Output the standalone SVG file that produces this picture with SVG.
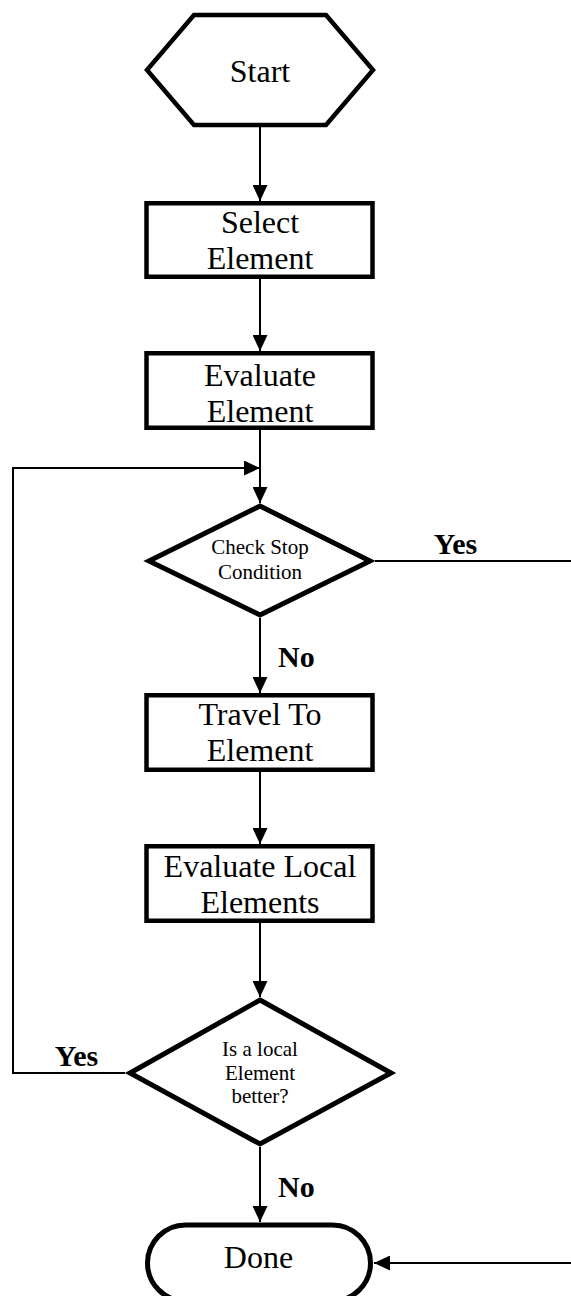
<svg xmlns="http://www.w3.org/2000/svg" width="571" height="1296" viewBox="0 0 571 1296">
  <style>
    .shape { fill: #fff; stroke: #000; stroke-width: 4.5; stroke-linejoin: miter; }
    .dec { fill: #fff; stroke: #000; stroke-width: 5; stroke-linejoin: miter; }
    .lbl { font-family: "Liberation Serif", "Times New Roman", serif; font-size: 32px; fill: #000; text-anchor: middle; }
    .small { font-family: "Liberation Serif", "Times New Roman", serif; font-size: 21px; fill: #000; text-anchor: middle; }
    .branch { font-family: "Liberation Serif", "Times New Roman", serif; font-size: 30px; font-weight: bold; fill: #000; }
    .link { fill: none; stroke: #000; stroke-width: 2; }
  </style>
  <defs>
    <marker id="arrow" markerUnits="userSpaceOnUse" markerWidth="16" markerHeight="15" refX="16" refY="7.5" orient="auto">
      <path d="M0,0 L16,7.5 L0,15 z" fill="#000"/>
    </marker>
  </defs>

  <rect width="571" height="1296" fill="#fff"/>

  <!-- connectors -->
  <g id="connectors">
    <path class="link" d="M260,127 V201" marker-end="url(#arrow)"/>
    <path class="link" d="M260,279 V351" marker-end="url(#arrow)"/>
    <path class="link" d="M260,430 V503" marker-end="url(#arrow)"/>
    <path class="link" d="M260,618 V693" marker-end="url(#arrow)"/>
    <path class="link" d="M260,772 V844" marker-end="url(#arrow)"/>
    <path class="link" d="M260,923 V997" marker-end="url(#arrow)"/>
    <path class="link" d="M260,1147 V1222" marker-end="url(#arrow)"/>
    <!-- stop condition met: straight to Done -->
    <path class="link" d="M375,561 H575 V1263 H374" marker-end="url(#arrow)"/>
    <!-- better local element found: loop back above the check -->
    <path class="link" d="M125,1073 H13 V468 H260" marker-end="url(#arrow)"/>
    <text class="branch" x="455.5" y="554" text-anchor="middle">Yes</text>
    <text class="branch" x="278" y="667">No</text>
    <text class="branch" x="76.5" y="1066" text-anchor="middle">Yes</text>
    <text class="branch" x="278" y="1197">No</text>
  </g>

  <g id="start">
    <polygon class="shape" points="147,70 194,15 326,15 373,70 326,125 194,125"/>
    <text class="lbl" x="260" y="82">Start</text>
  </g>

  <g id="select-element">
    <rect class="shape" x="146.5" y="203.25" width="226" height="73.5"/>
    <text class="lbl" x="260" y="233">Select</text>
    <text class="lbl" x="260" y="269">Element</text>
  </g>

  <g id="evaluate-element">
    <rect class="shape" x="146.5" y="353.25" width="226" height="74.5"/>
    <text class="lbl" x="260" y="386">Evaluate</text>
    <text class="lbl" x="260" y="422">Element</text>
  </g>

  <g id="check-stop">
    <polygon class="dec" points="260,506 370,561 260,615 149,561"/>
    <text class="small" x="260" y="554">Check Stop</text>
    <text class="small" x="260" y="579">Condition</text>
  </g>

  <g id="travel-to-element">
    <rect class="shape" x="146.5" y="695.25" width="226" height="74.5"/>
    <text class="lbl" x="260" y="725">Travel To</text>
    <text class="lbl" x="260" y="761">Element</text>
  </g>

  <g id="evaluate-local">
    <rect class="shape" x="146.5" y="846.25" width="226" height="74.5"/>
    <text class="lbl" x="260" y="877">Evaluate Local</text>
    <text class="lbl" x="260" y="913">Elements</text>
  </g>

  <g id="local-better">
    <polygon class="dec" points="260,1000 391,1073 260,1144 130,1073"/>
    <text class="small" x="260" y="1056">Is a local</text>
    <text class="small" x="260" y="1080">Element</text>
    <text class="small" x="260" y="1103">better?</text>
  </g>

  <g id="done">
    <rect class="dec" x="147.5" y="1225" width="223" height="76" rx="38" ry="38"/>
    <text class="lbl" x="258.5" y="1268">Done</text>
  </g>
</svg>
